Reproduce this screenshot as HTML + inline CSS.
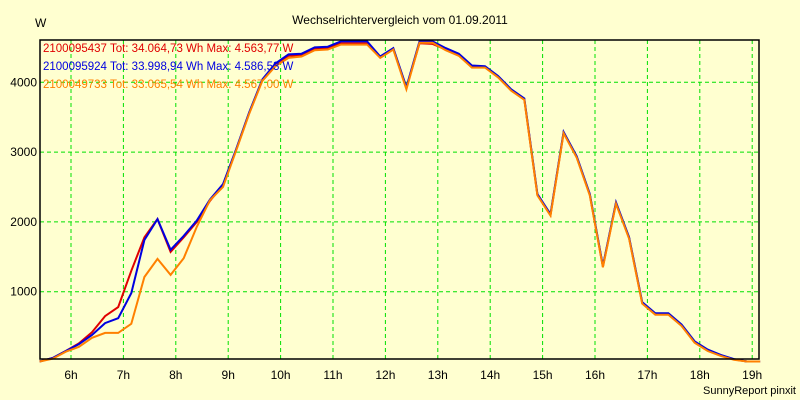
<!DOCTYPE html>
<html><head><meta charset="utf-8"><style>
body{margin:0;background:#ffffd0;}
svg{display:block;font-family:"Liberation Sans",sans-serif;}
</style></head><body>
<svg width="800" height="400" viewBox="0 0 800 400">
<rect x="0" y="0" width="800" height="400" fill="#ffffd0"/>
<text x="400" y="24" text-anchor="middle" font-size="12">Wechselrichtervergleich vom 01.09.2011</text>
<text x="35" y="27" font-size="12">W</text>
<g id="grid"></g>
<g id="series"></g>
<rect x="40" y="40" width="719" height="319" fill="none" stroke="#000" stroke-width="1.5"/>
<g id="axes"></g>
<text x="43" y="52" font-size="11.5" fill="#e00000">2100095437 Tot: 34.064,73 Wh Max: 4.563,77 W</text>
<text x="43" y="70" font-size="11.5" fill="#0000e0">2100095924 Tot: 33.998,94 Wh Max: 4.586,53 W</text>
<text x="43" y="88" font-size="11.5" fill="#ff8000">2100049733 Tot: 33.065,54 Wh Max: 4.567,00 W</text>
<text x="796" y="394" text-anchor="end" font-size="11">SunnyReport pinxit</text>
</svg>
<script>
const startHour = 5.4;
const stepHour = 0.25;
const redValues = [0,50,150,260,420,650,780,1300,1780,2040,1570,1780,2000,2300,2530,3030,3560,4030,4250,4380,4390,4480,4490,4560,4560,4560,4360,4480,3920,4560,4550,4470,4390,4220,4220,4080,3890,3760,2390,2100,3280,2930,2390,1360,2270,1770,840,680,680,520,280,160,90,30,0,0];
const blueValues = [0,50,150,250,380,550,620,980,1740,2040,1600,1800,2020,2320,2540,3040,3570,4040,4270,4400,4410,4500,4510,4586,4586,4586,4370,4490,3930,4586,4586,4490,4410,4240,4230,4090,3900,3770,2400,2110,3290,2940,2400,1370,2280,1780,850,690,690,530,290,170,95,35,0,0];
const orangeValues = [0,40,140,210,340,410,410,540,1210,1470,1240,1480,1930,2310,2500,3020,3550,4020,4230,4350,4370,4460,4470,4540,4540,4540,4350,4470,3900,4567,4567,4460,4380,4210,4210,4070,3880,3750,2380,2090,3270,2920,2380,1350,2260,1760,830,670,670,510,270,150,80,25,0,0];
const yTicks = [1000,2000,3000,4000];
const xTicks = [6,7,8,9,10,11,12,13,14,15,16,17,18,19];
const NS="http://www.w3.org/2000/svg";
function xPos(h){return 71+(h-6)*52.4;}
function yPos(v){return 361.5-v*0.0698;}
const grid=document.getElementById('grid'), axes=document.getElementById('axes'), series=document.getElementById('series');
xTicks.forEach(h=>{
  const l=document.createElementNS(NS,'line');
  
  
  l.setAttribute('x1',xPos(h));l.setAttribute('x2',xPos(h));l.setAttribute('y1',40);l.setAttribute('y2',359);
  l.setAttribute('stroke','#00e000');l.setAttribute('stroke-dasharray','4,3');
  grid.appendChild(l);
  const t=document.createElementNS(NS,'text');
  
  
  t.setAttribute('x',xPos(h));t.setAttribute('y',379);t.setAttribute('text-anchor','middle');t.setAttribute('font-size','12');
  t.textContent=h+'h';axes.appendChild(t);
});
yTicks.forEach(v=>{
  const l=document.createElementNS(NS,'line');
  
  
  l.setAttribute('x1',40);l.setAttribute('x2',759);l.setAttribute('y1',yPos(v));l.setAttribute('y2',yPos(v));
  l.setAttribute('stroke','#00e000');l.setAttribute('stroke-dasharray','4,3');
  grid.appendChild(l);
  const t=document.createElementNS(NS,'text');
  
  
  t.setAttribute('x',37);t.setAttribute('y',yPos(v)+4);t.setAttribute('text-anchor','end');t.setAttribute('font-size','12');
  t.textContent=v;axes.appendChild(t);
});
function drawSeries(vals,color,name){
  const p=document.createElementNS(NS,'polyline');
  
  
  p.setAttribute('points',vals.map((v,i)=>xPos(startHour+i*stepHour).toFixed(1)+','+yPos(v).toFixed(1)).join(' '));
  p.setAttribute('fill','none');p.setAttribute('stroke',color);p.setAttribute('stroke-width','2');
  series.appendChild(p);
}
drawSeries(redValues,'#e00000','series-red');
drawSeries(blueValues,'#0000e0','series-blue');
drawSeries(orangeValues,'#ff8000','series-orange');
</script>
</body></html>
